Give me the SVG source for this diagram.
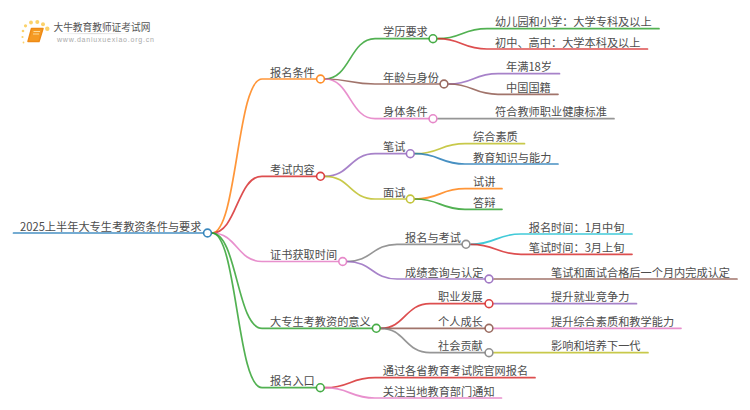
<svg xmlns="http://www.w3.org/2000/svg" width="750" height="410" viewBox="0 0 750 410">
<style>
text{font-family:"Noto Sans CJK SC","Liberation Sans",sans-serif;font-size:11.2px;fill:#4d4d4d}
.l{fill:none;stroke-width:1.7;stroke-opacity:.82;stroke-linecap:round}
.n{fill:#fff;stroke-width:1.6;stroke-opacity:.88}
.blue{stroke:#1f77b4}.org{stroke:#ff7f0e}.grn{stroke:#2ca02c}.red{stroke:#d62728}.pur{stroke:#9467bd}.brn{stroke:#8c564b}.pnk{stroke:#e377c2}.gry{stroke:#7f7f7f}.olv{stroke:#bcbd22}.cyn{stroke:#17becf}
</style>
<defs><linearGradient id="fade"><stop offset="0" stop-color="#ccc" stop-opacity="0"/><stop offset=".5" stop-color="#ccc"/><stop offset="1" stop-color="#ccc" stop-opacity="0"/></linearGradient></defs>
<g id="logo">
<g fill="#fbd26a"><circle cx="23" cy="31" r="1.3"/><circle cx="25.5" cy="25.8" r="1.6"/><circle cx="31" cy="22.5" r="1.9"/><circle cx="37.3" cy="22" r="2"/><circle cx="43" cy="24.3" r="2"/><circle cx="47.3" cy="28.7" r="2.2"/><circle cx="22.5" cy="37" r="1.1"/><circle cx="23.5" cy="42.5" r="0.9"/></g>
<path d="M31.5 28.5H43L39 41.5H28Z" fill="#f59a23" stroke="#ee8a16" stroke-width="1.5" stroke-linejoin="round"/>
<path d="M33.5 31.5H40M33 34H39" stroke="#fde2a8" stroke-width="0.9" fill="none"/>
<rect x="57" y="33.3" width="75" height="0.8" fill="url(#fade)"/>
<text x="53.5" y="30.5" style="font-size:9.7px;fill:#555">大牛教育教师证考试网</text>
<text x="57" y="41.5" style="font-family:'Liberation Sans',sans-serif;font-size:7px;letter-spacing:0.8px;fill:#aaa">www.daniuxuexiao.org.cn</text>
</g>
<g id="connectors">
<path class="l blue" d="M13.5 233H203"/>
<path class="l org" d="M212 233C237 233 237 79 262 79H316"/>
<path class="l red" d="M212 233C237 233 237 176.3 262 176.3H316"/>
<path class="l pnk" d="M212 233C237 233 237 261.5 262 261.5H338"/>
<path class="l grn" d="M212 233C237 233 237 328.3 262 328.3H372"/>
<path class="l grn" d="M212 233C237 233 237 387.7 262 387.7H316"/>
<path class="l grn" d="M325 79C350 79 350 38.7 375 38.7H429"/>
<path class="l brn" d="M325 79C350 79 350 84 375 84H440"/>
<path class="l pnk" d="M325 79C350 79 350 118.7 375 118.7H429"/>
<path class="l pur" d="M325 176.3C350 176.3 350 153.7 375 153.7H406"/>
<path class="l olv" d="M325 176.3C350 176.3 350 199 375 199H406"/>
<path class="l gry" d="M347 261.5C372 261.5 372 244.3 397 244.3H462"/>
<path class="l pur" d="M347 261.5C372 261.5 372 279 397 279H485"/>
<path class="l red" d="M381 328.3C405 328.3 405 303.7 430 303.7H485"/>
<path class="l brn" d="M381 328.3H485"/>
<path class="l gry" d="M381 328.3C405 328.3 405 352.7 430 352.7H485"/>
<path class="l red" d="M325 387.7C350 387.7 350 377.7 375 377.7H535"/>
<path class="l pnk" d="M325 387.7C350 387.7 350 398 375 398H501.5"/>
<path class="l grn" d="M438 38.7C462 38.7 462 28.7 487 28.7H659"/>
<path class="l red" d="M438 38.7C462 38.7 462 49 487 49H647.5"/>
<path class="l pur" d="M449 84C473 84 473 73.7 498 73.7H559.5"/>
<path class="l brn" d="M449 84C473 84 473 94.3 498 94.3H558"/>
<path class="l gry" d="M438 118.7H614"/>
<path class="l olv" d="M415 153.7C440 153.7 440 143.7 465 143.7H524.5"/>
<path class="l blue" d="M415 153.7C440 153.7 440 164 465 164H558"/>
<path class="l org" d="M415 199C440 199 440 188.7 465 188.7H502"/>
<path class="l grn" d="M415 199C440 199 440 209.3 465 209.3H502"/>
<path class="l cyn" d="M471 244.3C496 244.3 496 234 521 234H632"/>
<path class="l red" d="M471 244.3C496 244.3 496 254.3 521 254.3H632"/>
<path class="l brn" d="M494 279H737"/>
<path class="l pur" d="M494 303.7H636.5"/>
<path class="l pnk" d="M494 328.3H681"/>
<path class="l olv" d="M494 352.7H648"/>
</g>
<g id="root"><text x="20" y="230.5">2025上半年大专生考教资条件与要求</text><circle class="n blue" cx="207.5" cy="233" r="3.9"/></g>
<g id="n1"><text x="270" y="76.5">报名条件</text><circle class="n org" cx="320.5" cy="79" r="3.9"/></g>
<g id="n2"><text x="270" y="173.8">考试内容</text><circle class="n red" cx="320.5" cy="176.3" r="3.9"/></g>
<g id="n3"><text x="270" y="259">证书获取时间</text><circle class="n pnk" cx="342.7" cy="261.5" r="3.9"/></g>
<g id="n4"><text x="270" y="325.8">大专生考教资的意义</text><circle class="n grn" cx="376.3" cy="328.3" r="3.9"/></g>
<g id="n5"><text x="270" y="385.2">报名入口</text><circle class="n grn" cx="320.3" cy="387.7" r="3.9"/></g>
<g id="n11"><text x="383" y="36.2">学历要求</text><circle class="n grn" cx="433" cy="38.7" r="3.9"/></g>
<g id="n12"><text x="383" y="81.5">年龄与身份</text><circle class="n brn" cx="444" cy="84" r="3.9"/></g>
<g id="n13"><text x="383" y="116.2">身体条件</text><circle class="n pnk" cx="433" cy="118.7" r="3.9"/></g>
<g id="n21"><text x="383" y="151.2">笔试</text><circle class="n pur" cx="410.3" cy="153.7" r="3.9"/></g>
<g id="n22"><text x="383" y="196.5">面试</text><circle class="n olv" cx="410.3" cy="199" r="3.9"/></g>
<g id="n31"><text x="405" y="241.8">报名与考试</text><circle class="n gry" cx="466" cy="244.3" r="3.9"/></g>
<g id="n32"><text x="405" y="276.5">成绩查询与认定</text><circle class="n pur" cx="489" cy="279" r="3.9"/></g>
<g id="n41"><text x="438" y="301.2">职业发展</text><circle class="n red" cx="489" cy="303.7" r="3.9"/></g>
<g id="n42"><text x="438" y="325.8">个人成长</text><circle class="n brn" cx="489" cy="328.3" r="3.9"/></g>
<g id="n43"><text x="438" y="350.2">社会贡献</text><circle class="n gry" cx="489" cy="352.7" r="3.9"/></g>
<g id="n51"><text x="382.7" y="375.2">通过各省教育考试院官网报名</text></g>
<g id="n52"><text x="382.7" y="395.5">关注当地教育部门通知</text></g>
<g id="l111"><text x="495" y="26.2">幼儿园和小学：大学专科及以上</text></g>
<g id="l112"><text x="495" y="46.5">初中、高中：大学本科及以上</text></g>
<g id="l121"><text x="506" y="71.2">年满18岁</text></g>
<g id="l122"><text x="506" y="91.8">中国国籍</text></g>
<g id="l131"><text x="495" y="116.2">符合教师职业健康标准</text></g>
<g id="l211"><text x="473" y="141.2">综合素质</text></g>
<g id="l212"><text x="473" y="161.5">教育知识与能力</text></g>
<g id="l221"><text x="473" y="186.2">试讲</text></g>
<g id="l222"><text x="473" y="206.8">答辩</text></g>
<g id="l311"><text x="528.7" y="231.5">报名时间：1月中旬</text></g>
<g id="l312"><text x="528.7" y="251.8">笔试时间：3月上旬</text></g>
<g id="l321"><text x="551" y="276.5">笔试和面试合格后一个月内完成认定</text></g>
<g id="l411"><text x="551" y="301.2">提升就业竞争力</text></g>
<g id="l421"><text x="551" y="325.8">提升综合素质和教学能力</text></g>
<g id="l431"><text x="551" y="350.2">影响和培养下一代</text></g>
</svg>
